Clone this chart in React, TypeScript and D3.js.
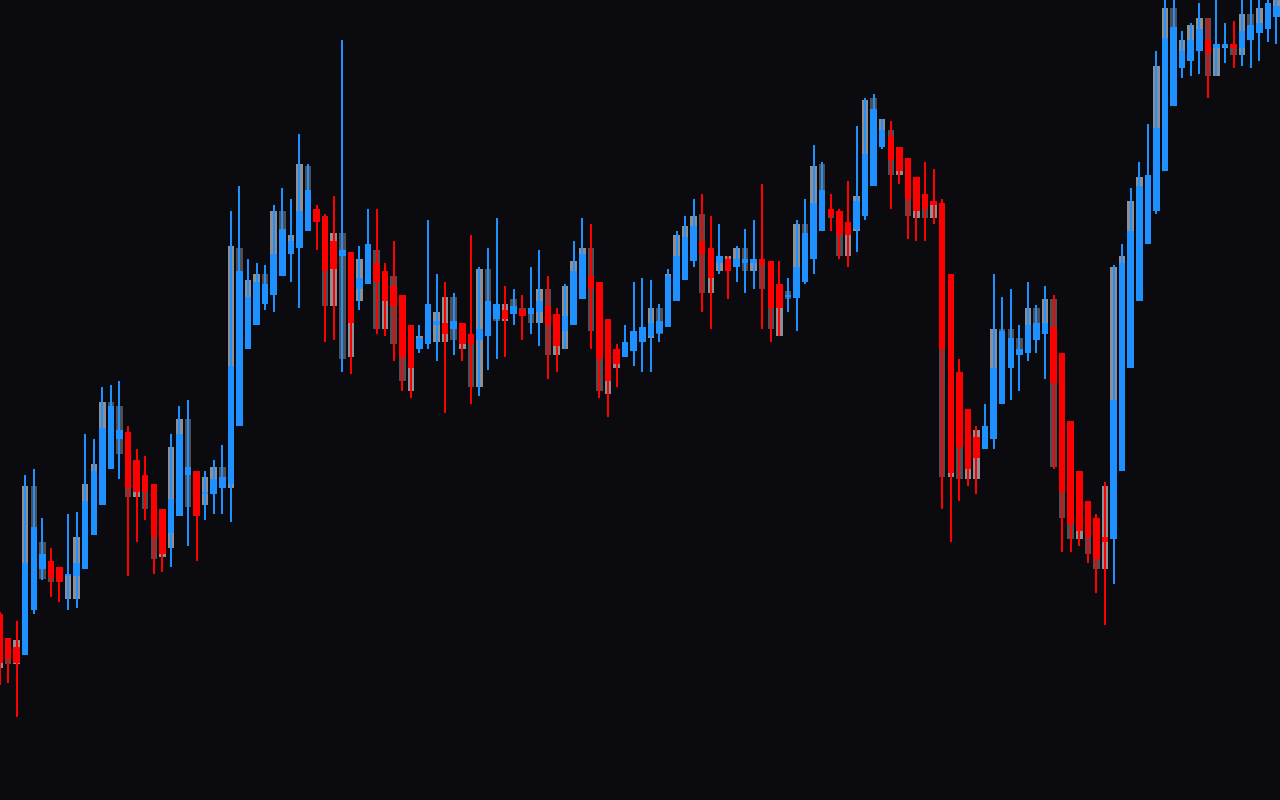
import React, { useEffect, useRef } from "react";
import * as d3 from "d3";

// OHLC candles (price units), left to right
const opens = [
  138.6, 136.2, 135.3, 134.5, 139.0, 143.1, 143.9, 143.3, 142.4, 142.4,
  143.1, 146.5, 149.5, 153.1, 156.1, 156.8, 154.0, 152.5, 151.6, 149.1,
  146.7, 148.4, 152.5, 152.9, 150.6, 150.6, 151.2, 151.6, 157.4, 165.1,
  167.5, 169.6, 170.5, 172.4, 174.6, 175.2, 176.9, 179.1, 178.4, 175.9,
  174.4, 174.8, 171.1, 171.6, 173.7, 172.9, 171.4, 170.5, 167.5, 165.1,
  165.6, 167.5, 167.7, 167.1, 167.7, 166.6, 166.0, 166.4, 168.1, 169.0,
  168.6, 169.0, 168.6, 168.8, 169.4, 168.6, 166.9, 167.5, 170.1, 172.4,
  171.8, 168.1, 165.1, 164.3, 164.9, 165.8, 166.4, 166.7, 167.3, 169.9,
  172.0, 173.9, 175.9, 175.2, 173.7, 174.1, 173.3, 173.7, 173.7, 174.1,
  173.9, 171.6, 170.3, 170.2, 171.8, 174.1, 176.9, 179.1, 178.9, 177.8,
  177.1, 178.4, 181.4, 185.3, 186.4, 185.3, 184.2, 182.3, 180.6, 179.9,
  179.7, 172.6, 162.8, 159.1, 156.3, 155.1, 156.1, 159.6, 163.2, 164.5,
  164.7, 166.0, 166.6, 167.3, 164.7, 157.9, 152.9, 149.9, 148.2, 146.3,
  146.1, 152.9, 163.2, 169.9, 175.6, 178.9, 182.9, 189.4, 193.2, 193.9,
  194.9, 196.0, 195.2, 195.3, 195.6, 195.2, 196.0, 196.7, 197.1, 198.3,
];
const highs = [
  138.8, 136.2, 137.9, 152.5, 153.1, 148.2, 145.2, 143.3, 148.6, 148.8,
  156.6, 156.1, 161.3, 161.5, 161.9, 157.4, 155.1, 154.4, 151.6, 149.1,
  156.6, 159.4, 160.0, 152.9, 152.9, 154.0, 155.5, 178.9, 181.4, 174.1,
  173.7, 173.5, 179.5, 181.2, 180.1, 186.6, 183.6, 179.5, 178.6, 180.4,
  196.0, 174.8, 175.4, 179.1, 179.1, 173.7, 175.9, 170.5, 167.5, 167.5,
  178.0, 172.6, 171.8, 170.7, 167.7, 176.5, 173.3, 175.2, 178.2, 171.4,
  171.1, 170.5, 173.3, 175.0, 172.4, 169.2, 171.6, 175.9, 178.2, 177.6,
  171.8, 168.1, 165.6, 167.5, 171.8, 172.2, 172.0, 169.6, 173.1, 176.9,
  178.4, 180.1, 180.6, 178.4, 177.6, 174.4, 175.4, 177.1, 178.0, 181.6,
  173.9, 173.9, 172.2, 178.0, 180.1, 185.5, 183.8, 180.6, 179.1, 181.9,
  187.4, 190.2, 190.6, 188.1, 187.9, 185.3, 184.2, 182.3, 183.8, 183.1,
  180.1, 172.6, 164.1, 159.1, 157.4, 159.6, 172.6, 170.3, 171.1, 167.5,
  171.8, 169.5, 171.4, 170.5, 164.7, 157.9, 152.9, 149.9, 148.6, 151.8,
  173.5, 175.6, 181.2, 183.8, 187.6, 194.9, 200.0, 200.0, 196.9, 197.7,
  199.7, 198.2, 200.0, 197.7, 197.9, 200.0, 200.0, 200.0, 200.0, 200.0,
];
const lows = [
  131.5, 131.7, 128.3, 134.5, 138.6, 142.0, 140.3, 139.8, 139.0, 139.2,
  143.1, 146.5, 149.5, 153.1, 152.1, 142.4, 145.8, 148.0, 142.6, 142.8,
  143.3, 148.4, 145.4, 143.9, 148.0, 148.6, 148.6, 147.8, 157.4, 165.1,
  167.5, 169.0, 168.8, 172.4, 171.8, 169.2, 176.9, 175.0, 165.8, 166.0,
  162.8, 162.6, 169.0, 171.6, 166.6, 166.4, 163.9, 160.9, 160.2, 164.7,
  165.1, 163.9, 158.7, 164.5, 163.9, 159.6, 160.4, 163.0, 164.1, 164.3,
  167.5, 166.0, 166.6, 165.4, 162.1, 162.8, 165.1, 167.5, 170.1, 165.1,
  160.2, 158.3, 161.3, 164.3, 163.4, 162.8, 162.8, 165.8, 167.3, 169.9,
  172.0, 173.3, 168.8, 167.1, 172.6, 170.1, 171.8, 170.7, 171.1, 167.1,
  165.8, 166.4, 168.8, 166.9, 171.6, 172.6, 176.9, 176.9, 174.1, 173.3,
  174.8, 178.0, 181.4, 185.1, 179.1, 181.6, 176.1, 175.9, 175.9, 177.6,
  149.1, 145.8, 149.9, 151.4, 150.6, 155.1, 155.1, 159.6, 160.0, 160.9,
  163.9, 164.7, 162.1, 153.1, 144.8, 144.8, 145.4, 143.7, 140.7, 137.5,
  141.6, 152.9, 163.2, 169.9, 175.6, 178.6, 182.9, 189.4, 192.2, 192.4,
  192.6, 190.2, 192.4, 193.7, 193.2, 193.4, 193.2, 193.9, 195.8, 195.6,
];
const closes = [
  133.7, 134.1, 133.7, 143.7, 147.3, 144.6, 142.2, 141.8, 142.6, 143.7,
  149.9, 152.9, 157.2, 159.4, 157.0, 151.2, 150.8, 150.8, 146.3, 144.6,
  150.1, 156.6, 153.3, 148.4, 150.8, 152.1, 152.3, 163.4, 172.9, 170.3,
  171.8, 171.6, 174.6, 177.1, 175.9, 178.9, 181.0, 177.8, 172.9, 173.1,
  175.0, 167.7, 172.2, 175.6, 171.8, 169.9, 169.4, 164.3, 163.2, 166.2,
  169.6, 167.9, 166.6, 167.9, 165.6, 165.6, 167.1, 169.9, 169.6, 168.1,
  169.4, 168.4, 169.2, 169.9, 167.5, 165.4, 168.4, 172.9, 174.6, 171.1,
  164.1, 161.9, 163.6, 165.8, 166.9, 167.3, 167.7, 167.9, 172.4, 174.4,
  176.3, 177.4, 174.6, 172.2, 174.4, 172.9, 174.1, 174.1, 174.1, 173.5,
  169.2, 169.2, 170.5, 173.3, 176.7, 179.7, 181.0, 178.4, 176.5, 176.5,
  179.9, 184.6, 189.1, 187.0, 184.0, 182.9, 180.1, 178.9, 179.1, 179.5,
  165.1, 152.7, 155.3, 153.1, 154.2, 157.4, 163.2, 166.9, 166.2, 165.1,
  167.5, 167.7, 167.7, 161.7, 150.8, 147.6, 146.9, 146.3, 144.1, 145.8,
  160.0, 173.7, 176.9, 181.4, 182.5, 187.2, 196.2, 197.3, 194.9, 196.0,
  197.1, 194.7, 195.6, 195.6, 195.2, 196.9, 197.5, 197.7, 199.7, 199.4,
];

// Shaded reference range drawn behind each candle (null = none)
const refHigh: (number | null)[] = [
  135.2, 135.0, 136.0, 151.4, 151.4, 145.8, 143.0, null, 142.5, 146.3,
  151.6, 153.6, 159.8, 159.8, 159.4, 153.0, 152.0, 152.0, 149.0, 146.0,
  155.3, 158.1, 158.1, null, 152.3, 153.3, 153.3, 175.4, 175.2, 172.0,
  172.6, 172.6, 178.9, 178.9, 176.5, 183.6, 183.4, null, 178.4, 176.7,
  176.7, 170.0, 174.1, null, 175.0, 171.0, 172.4, 166.0, 165.0, 166.4,
  null, 168.8, 170.3, 170.3, 167.0, 166.6, 173.1, 173.1, 169.6, 169.6,
  170.1, 169.2, 169.2, 171.1, 171.1, 167.0, 171.4, 173.9, 175.2, 175.2,
  166.0, 164.0, 164.5, null, null, null, 169.2, 169.2, 172.6, 176.5,
  177.4, 178.4, 178.6, 174.0, 174.4, 174.4, 175.2, 175.2, 174.1, 174.1,
  171.0, 171.0, 170.9, 177.6, 177.6, 183.4, 183.6, 179.1, 178.0, 176.5,
  180.4, 190.0, 190.2, 188.1, 187.0, 184.0, 181.5, 180.0, 180.6, 179.9,
  179.7, 156.0, 158.0, 154.0, 157.0, null, 167.1, 167.1, 167.1, 166.2,
  169.2, 169.2, 170.1, 170.1, 153.0, 149.0, 148.0, 147.0, 145.5, 151.4,
  173.3, 174.4, 179.9, 182.3, null, 193.4, 199.2, 199.2, 196.0, 197.5,
  198.2, 198.2, 195.6, 195.6, 195.6, 198.6, 198.6, 199.2, null, 200.0,
];
const refLow: (number | null)[] = [
  133.2, 133.6, 133.6, 143.7, 147.3, 142.1, 141.8, null, 140.1, 140.1,
  149.9, 152.9, 157.2, 159.4, 154.6, 150.3, 150.3, 149.1, 144.1, 144.3,
  145.2, 156.6, 149.3, null, 149.5, 150.6, 152.3, 151.2, 172.9, 170.3,
  171.8, 171.6, 174.6, 177.1, 175.9, 178.9, 181.0, null, 169.4, 169.4,
  164.1, 164.3, 169.9, null, 167.1, 167.1, 165.6, 161.9, 160.9, 165.1,
  null, 165.8, 165.8, 166.0, 165.1, 161.3, 161.3, 169.9, 167.9, 167.9,
  168.6, 168.4, 167.7, 167.7, 164.5, 164.5, 165.1, 172.9, 174.6, 166.9,
  160.9, 160.6, 163.2, null, null, null, 166.2, 166.6, 172.4, 174.4,
  176.3, 177.4, 170.7, 170.7, 172.9, 173.5, 174.1, 172.9, 172.9, 171.1,
  167.1, 166.4, 170.1, 173.3, 176.7, 179.7, 181.0, 178.2, 174.4, 174.4,
  176.9, 184.6, 189.1, 187.0, 182.5, 182.5, 178.4, 178.2, 178.2, 178.2,
  152.3, 152.3, 152.1, 152.1, 152.1, null, 163.2, 166.9, 166.2, 164.5,
  167.5, 167.7, 167.7, 153.3, 148.2, 146.1, 146.1, 144.6, 143.1, 143.1,
  160.0, 173.7, 176.9, 181.4, null, 187.2, 196.2, 197.3, 194.9, 196.0,
  197.1, 192.4, 192.4, 195.2, 194.5, 194.5, 197.5, 197.7, null, 198.3,
];
// Tone of the reference range: L = light, D = dark
const refTone = (
  "LDLLDDDLLL" + "LLLDDDLDDL" + "LLDLLLDLDL" + "LDLDLLDLDL" + "DLLLDLDDLL" +
  "LLLDLDLDDL" + "DDDLDLLLLD" + "DLLLLLLDLL" + "LLDLLLLDLD" + "DLDLDLDDDL" +
  "LLDLDLDLDL" + "DLDLLLLDDD" + "LDLDDDLDDL" + "LLLLLLLDLL" + "LDLLDLDLLL"
).split("");

const W = 1280;
const H = 800;
const BG = "#0a0a0f";
const UP = "#1e90ff";
const DOWN = "#ff0000";
const LIGHT = "#8e8e95";
const DARK = "#4e4e54";

export default function App() {
  const ref = useRef<SVGSVGElement | null>(null);

  useEffect(() => {
    const svg = d3.select(ref.current);
    svg.selectAll("*").remove();
    const idx = d3.range(opens.length);

    const step = 8.57;
    const x = d3
      .scaleBand<number>()
      .domain(idx)
      .range([-0.5 - step / 2, -0.5 - step / 2 + step * idx.length])
      .paddingInner(0.24)
      .paddingOuter(0.12);
    const y = d3.scaleLinear().domain([120, 200]).range([H, 0]);
    const bw = x.bandwidth();

    svg
      .append("rect")
      .attr("width", W)
      .attr("height", H)
      .attr("fill", BG);

    const g = svg.append("g").attr("shape-rendering", "crispEdges");

    // reference ranges
    g.selectAll("rect.ref")
      .data(idx.filter((i) => refHigh[i] != null && refLow[i] != null))
      .join("rect")
      .attr("class", "ref")
      .attr("x", (i) => x(i)!)
      .attr("width", bw)
      .attr("y", (i) => y(refHigh[i] as number))
      .attr("height", (i) =>
        Math.max(1, y(refLow[i] as number) - y(refHigh[i] as number))
      )
      .attr("fill", (i) => (refTone[i] === "L" ? LIGHT : DARK));

    // wicks
    g.selectAll("rect.wick")
      .data(idx)
      .join("rect")
      .attr("class", "wick")
      .attr("x", (i) => x(i)! + bw / 2 - 1)
      .attr("width", 2)
      .attr("y", (i) => y(highs[i]))
      .attr("height", (i) => Math.max(1, y(lows[i]) - y(highs[i])))
      .attr("fill", (i) => (closes[i] >= opens[i] ? UP : DOWN));

    // bodies
    g.selectAll("rect.body")
      .data(idx)
      .join("rect")
      .attr("class", "body")
      .attr("x", (i) => x(i)!)
      .attr("width", bw)
      .attr("y", (i) => y(Math.max(opens[i], closes[i])))
      .attr("height", (i) =>
        Math.max(2, Math.abs(y(opens[i]) - y(closes[i])))
      )
      .attr("fill", (i) => (closes[i] >= opens[i] ? UP : DOWN));
  }, []);

  return (
    <div
      style={{
        position: "fixed",
        left: 0,
        top: 0,
        width: W,
        height: H,
        background: BG,
        overflow: "hidden",
      }}
    >
      <svg ref={ref} width={W} height={H} style={{ display: "block" }} />
    </div>
  );
}
